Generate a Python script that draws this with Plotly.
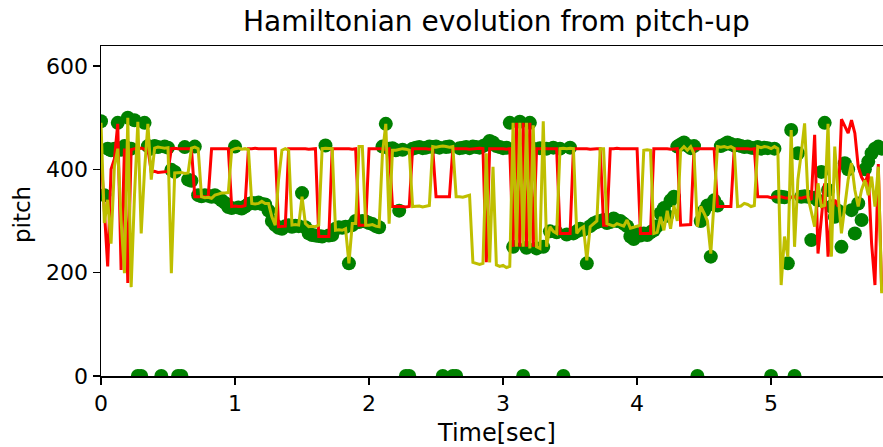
import plotly.graph_objects as go

HOP = 0.025  # seconds per analysis frame

# Observed pitch per frame (green dots); 0 = unvoiced frame
pitch_obs = [
    493, 350, 440, 437, 440, 490, 438, 445, 500, 440,
    495, 0, 0, 490, 445, 440, 445, 443, 0, 444,
    442, 399, 395, 0, 0, 443, 380, 378, 444, 350,
    348, 350, 349, 347, 350, 345, 340, 335, 327, 325,
    444, 326, 324, 328, 333, 335, 334, 336, 333, 332,
    320, 300, 292, 287, 285, 290, 292, 289, 291, 290,
    354, 288, 276, 273, 272, 271, 270, 446, 272, 273,
    285, 288, 287, 289, 218, 292, 300, 298, 300, 299,
    296, 294, 290, 288, 444, 488, 440, 441, 437, 320,
    438, 0, 0, 440, 442, 443, 441, 442, 444, 443,
    444, 442, 0, 443, 444, 0, 0, 441, 442, 443,
    441, 444, 443, 442, 445, 448, 455, 452, 445, 443,
    441, 442, 490, 250, 442, 492, 0, 248, 490, 440,
    247, 441, 250, 440, 280, 442, 278, 440, 0, 274,
    442, 276, 280, 285, 283, 218, 290, 295, 298, 300,
    302, 296, 298, 305, 300, 300, 295, 290, 270, 265,
    275, 272, 276, 273, 278, 282, 290, 315, 325, 310,
    340, 347, 444, 448, 452, 446, 441, 445, 0, 300,
    320, 330, 231, 340, 330, 445, 448, 452, 449, 446,
    447, 445, 443, 444, 442, 441, 443, 440, 442, 441,
    0, 440, 347, 347, 346, 218, 476, 0, 431, 347,
    348, 347, 263, 345, 340, 395, 490, 360, 328, 308,
    320, 250, 412, 400, 321, 276, 334, 302, 400, 415,
    431, 440, 444, 440,
]

# Red trajectory
pitch_red = [
    430, 330, 212, 400, 420, 488, 205, 440, 180, 438,
    440, 440, 441, 439, 440, 395, 396, 394, 395, 395,
    396, 440, 441, 440, 440, 439, 440, 440, 347, 347,
    348, 347, 347, 440, 440, 441, 440, 440, 440, 328,
    329, 328, 328, 330, 440, 440, 441, 440, 440, 439,
    440, 440, 440, 289, 289, 290, 440, 440, 441, 440,
    440, 440, 439, 440, 440, 270, 270, 271, 270, 440,
    440, 441, 440, 440, 440, 439, 440, 292, 292, 292,
    440, 440, 441, 440, 440, 439, 440, 328, 328, 329,
    328, 327, 328, 440, 440, 441, 440, 440, 439, 440,
    347, 347, 348, 347, 347, 440, 440, 441, 440, 440,
    439, 440, 440, 441, 440, 220, 440, 440, 441, 440,
    440, 439, 440, 250, 490, 250, 490, 250, 490, 250,
    440, 440, 441, 440, 440, 439, 440, 276, 276, 277,
    276, 440, 440, 441, 440, 440, 439, 440, 440, 440,
    292, 292, 440, 440, 441, 440, 440, 439, 440, 440,
    440, 276, 276, 277, 276, 440, 440, 441, 440, 440,
    439, 440, 440, 292, 292, 292, 293, 440, 440, 441,
    440, 440, 440, 440, 328, 328, 329, 328, 328, 440,
    440, 441, 440, 440, 439, 440, 347, 347, 346, 347,
    345, 347, 346, 347, 345, 344, 346, 347, 345, 344,
    346, 347, 341, 467, 237, 300, 373, 231, 320, 341,
    328, 497, 485, 470, 495, 470, 405, 385, 373, 392,
    256, 176, 410, 165,
]

# Yellow trajectory
pitch_yel = [
    490, 296, 341, 256, 405, 440, 300, 199, 500, 172,
    350, 492, 276, 400, 488, 380, 441, 443, 442, 441,
    442, 199, 393, 393, 394, 392, 393, 441, 443, 440,
    347, 345, 346, 344, 350, 352, 354, 354, 355, 437,
    440, 441, 439, 440, 438, 334, 333, 334, 338, 334,
    334, 308, 292, 380, 437, 440, 437, 292, 293, 292,
    347, 295, 289, 290, 289, 292, 440, 441, 440, 440,
    282, 283, 282, 285, 218, 295, 295, 444, 444, 292,
    292, 293, 290, 289, 430, 488, 295, 437, 437, 438,
    440, 439, 437, 328, 328, 329, 327, 328, 330, 444,
    443, 444, 445, 444, 443, 444, 347, 347, 346, 348,
    350, 220, 218, 216, 218, 431, 220, 405, 215, 212,
    214, 210, 212, 490, 250, 490, 250, 490, 247, 485,
    250, 247, 493, 250, 289, 280, 276, 440, 441, 440,
    441, 440, 276, 285, 289, 224, 289, 295, 300, 440,
    440, 295, 293, 290, 295, 293, 290, 302, 286, 288,
    290, 292, 437, 438, 437, 276, 278, 308, 282, 320,
    285, 330, 300, 437, 444, 437, 444, 430, 289, 328,
    315, 300, 237, 347, 444, 443, 444, 442, 444, 440,
    328, 329, 334, 332, 328, 330, 444, 442, 444, 443,
    440, 444, 440, 176, 270, 231, 476, 250, 380, 431,
    489, 347, 320, 289, 373, 328, 330, 488, 231, 444,
    350, 276, 328, 380, 412, 360, 328, 360, 379, 350,
    386, 328, 405, 160,
]

x_ticks = [0, 1, 2, 3, 4, 5]
y_ticks = [0, 200, 400, 600]

times = [i * HOP for i in range(len(pitch_obs))]

FONT = "DejaVu Sans"

fig = go.Figure()
fig.add_trace(go.Scatter(x=times, y=pitch_obs, mode="markers",
                         marker=dict(color="#008000", size=14, line=dict(width=0)),
                         cliponaxis=True, showlegend=False))
fig.add_trace(go.Scatter(x=times, y=pitch_red, mode="lines",
                         line=dict(color="#ff0000", width=3), showlegend=False))
fig.add_trace(go.Scatter(x=times, y=pitch_yel, mode="lines",
                         line=dict(color="#bfbf00", width=3), showlegend=False))

axis_common = dict(showgrid=False, zeroline=False, showline=True, linecolor="black",
                   linewidth=1.5, ticks="outside", ticklen=7, tickwidth=1.5,
                   tickcolor="black", automargin=False,
                   tickfont=dict(family=FONT, size=22, color="black"))

fig.update_xaxes(range=[0, 5.835], tickvals=x_ticks, mirror=True, **axis_common)
fig.update_yaxes(range=[0, 638.7], tickvals=y_ticks, mirror=False, **axis_common)

fig.update_layout(
    width=883, height=447,
    margin=dict(l=101, r=0, t=46, b=71, pad=0),
    paper_bgcolor="white", plot_bgcolor="white",
    font=dict(family=FONT, color="black"),
    annotations=[
        dict(text="Hamiltonian evolution from pitch-up", xref="paper", yref="paper",
             x=0.506, y=1.073, xanchor="center", yanchor="middle", showarrow=False,
             font=dict(family=FONT, size=28, color="black")),
        dict(text="Time[sec]", xref="paper", yref="paper",
             x=0.506, y=-0.172, xanchor="center", yanchor="middle", showarrow=False,
             font=dict(family=FONT, size=24, color="black")),
        dict(text="pitch", xref="paper", yref="paper", textangle=-90,
             x=-0.1, y=0.49, xanchor="center", yanchor="middle", showarrow=False,
             font=dict(family=FONT, size=23, color="black")),
    ],
)

# Remove the browser's default page margin so the figure sits at the window origin.
fig.write_html("out.html", config=dict(displayModeBar=False, staticPlot=True),
               post_script="document.body.style.margin='0px';")
